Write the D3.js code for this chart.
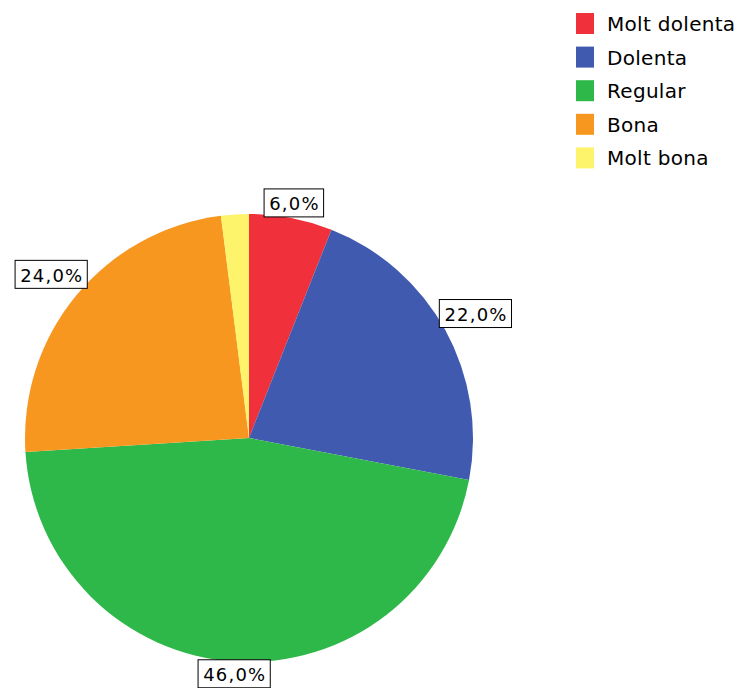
<!DOCTYPE html>
<html>
<head>
<meta charset="utf-8">
<script src="https://cdn.jsdelivr.net/npm/d3@7"></script>
<style>
  html, body { margin: 0; padding: 0; background: #fff; }
  svg { display: block; font-family: "DejaVu Sans", Verdana, sans-serif; }
</style>
</head>
<body>
<svg id="chart" width="742" height="688"></svg>
<script>
// Survey response shares (percent)
const categories = ["Molt dolenta", "Dolenta", "Regular", "Bona", "Molt bona"];
const values = [6.0, 22.0, 46.0, 24.0, 2.0];
const colors = ["#f0313b", "#3f5aaf", "#2fb84a", "#f8971f", "#fdf46c"];
const showLabel = [true, true, true, true, false];

const svg = d3.select("#chart");
const cx = 249, cy = 438, r = 224;

const data = categories.map((c, i) => ({ cat: c, value: values[i], color: colors[i], label: showLabel[i] }));

const pie = d3.pie().sort(null).value(d => d.value);
const arcs = pie(data);
const arc = d3.arc().innerRadius(0).outerRadius(r);

const g = svg.append("g").attr("transform", `translate(${cx},${cy})`);

g.selectAll("path.slice")
  .data(arcs)
  .join("path")
  .attr("class", "slice")
  .attr("d", arc)
  .attr("fill", d => d.data.color);

// Boxed percentage labels sitting just outside the rim
const fmt = v => v.toFixed(1).replace(".", ",") + "%";
const labels = g.selectAll("g.lbl")
  .data(arcs.filter(d => d.data.label))
  .join("g")
  .attr("class", "lbl");

labels.each(function(d) {
  const sel = d3.select(this);
  const t = sel.append("text")
    .attr("font-size", 18)
    .attr("letter-spacing", 1.2)
    .attr("fill", "#000")
    .attr("text-anchor", "middle")
    .attr("dominant-baseline", "central")
    .text(fmt(d.data.value));
  const bb = t.node().getBBox();
  const w = bb.width + 9, h = 28;
  const a = (d.startAngle + d.endAngle) / 2;
  const sx = Math.sin(a), sy = -Math.cos(a);
  const ext = Math.abs(sx) * w / 2 + Math.abs(sy) * h / 2;
  const dist = r - 4 + ext;
  const x = sx * dist, y = sy * dist;
  sel.insert("rect", "text")
    .attr("x", x - w / 2).attr("y", y - h / 2)
    .attr("width", w).attr("height", h)
    .attr("fill", "#fff").attr("stroke", "#000").attr("stroke-width", 1);
  t.attr("x", x + 0.6).attr("y", y + 1);
});

// Legend
const legend = svg.append("g").attr("transform", "translate(576,13)");
const row = legend.selectAll("g.item")
  .data(data)
  .join("g")
  .attr("class", "item")
  .attr("transform", (d, i) => `translate(0,${i * 33.6})`);
row.append("rect")
  .attr("width", 18).attr("height", 21)
  .attr("fill", d => d.color);
row.append("text")
  .attr("x", 31).attr("y", 11)
  .attr("dominant-baseline", "central")
  .attr("font-size", 20)
  .attr("letter-spacing", 0.3)
  .attr("fill", "#000")
  .text(d => d.cat);
</script>
</body>
</html>
